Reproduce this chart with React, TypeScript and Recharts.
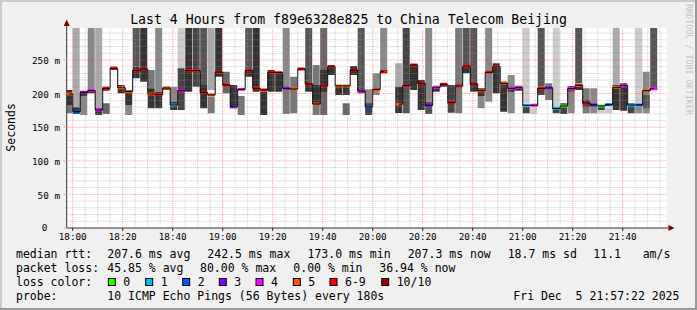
import {
  ComposedChart,
  Bar,
  Line,
  XAxis,
  YAxis,
  CartesianGrid,
  ReferenceLine,
  Cell,
} from 'recharts'

type Range = [number, number] | null

// one value per 3 minute step, first step 17:57-18:00, last 21:51-21:54
const medianMs: (number | null)[] = [
  199.4, 173.1, 201.4, 204.3, 175.6, 207.8, 237.6, 208.8, 202.9, 234.1,
  236.6, 199.4, 198.4, 208.3, 183.0, 204.3, 234.1, 234.1, 201.4, 197.9,
  232.1, 212.8, 180.5, 206.3, 234.1, 207.8, 205.3, 231.6, 231.1, 207.8,
  206.8, 236.6, 214.3, 184.5, 211.3, 240.1, 211.3, 211.3, 235.1, 203.9,
  180.0, 206.3, 232.6, null, 184.3, 211.8, 242.5, 215.3, 182.5, 209.3,
  213.8, 186.5, 211.3, 240.6, 214.3, 204.3, 231.6, 240.1, 215.3, 207.8,
  209.3, 182.5, 182.5, 207.8, 208.8, 177.6, 181.5, 207.3, 212.3, 186.0,
  183.0, 181.5, 183.5, 209.3, 211.8, 183.0, 183.0, 204.3, 207.3,
]

// index into lossLabels
const lossLevel: (number | null)[] = [
  5, 2, 3, 4, 4, 6, 6, 5, 5, 6,
  6, 5, 6, 5, 1, 4, 6, 6, 6, 5,
  6, 6, 3, 4, 6, 6, 6, 6, 6, 3,
  5, 6, 6, 5, 6, 6, 5, 5, 6, 4,
  2, 5, 6, null, 5, 6, 6, 6, 3, 4,
  6, 6, 6, 6, 6, 5, 6, 6, 5, 4,
  4, 1, 4, 6, 3, 1, 0, 4, 6, 6,
  3, 0, 2, 5, 4, 1, 2, 5, 4,
]

// smoke: wide band of the ping spread and the dense band near the median
const smokeOuter: Range[] = [
  [170.6, 205.3], [179.5, 300], [168.1, 196.4], [205.3, 300], [178.1, 300],
  [169.6, 185.5], null, null, [168.1, 183], [240.1, 300],
  [217.7, 300], [207.8, 235.1], [202.9, 300], null, [188, 210.3],
  [237.6, 300], [202.9, 300], [210.3, 300], [212.8, 300], [205.3, 300],
  [225.2, 300], [200.4, 232.6], [178.1, 212.8], [168.1, 196.4], [235.1, 300],
  [202.9, 300], [168.1, 202.9], [202.9, 235.1], [202.9, 232.6], [207.8, 300],
  [170.6, 225.2], null, [215.3, 300], [168.1, 242.5], [168.1, 300],
  [227.7, 242.5], [197.9, 212.8], [168.1, 185.5], [227.7, 241.1], [207.8, 300],
  [173.1, 206.3], [197.9, 230.1], [235.1, 300], null, [210.3, 245],
  [211.3, 300], [205.3, 243.5], [175.6, 220.2], [188, 300], [202.9, 210.3],
  [210.3, 215.3], [171.6, 212.8], [170.6, 300], [242.5, 300], [215.3, 300],
  [178.1, 196.4], [188, 300], [200.4, 245], [173.1, 217.7], [170.6, 227.7],
  [204.3, 211.3], [185.5, 300], [169.6, 179.5], [210.3, 300], [190.5, 215.3],
  [179.5, 300], [169.6, 185.5], [170.6, 211.3], [215.3, 300], [170.6, 207.8],
  [170.6, 207.8], [170.6, 178.1], [170.6, 178.1], [212.8, 300], [174.6, 215.3],
  [170.6, 185.5], [185.5, 300], [170.6, 232.6], [207.8, 300],
]
const outerTone = [
  3, 1, 2, 2, 1, 4, 0, 0, 2, 5,
  7, 3, 2, 0, 2, 0, 7, 6, 5, 1,
  7, 4, 7, 3, 5, 7, 7, 7, 7, 2,
  3, 0, 5, 3, 4, 7, 7, 4, 7, 5,
  2, 2, 2, 0, 1, 6, 7, 7, 2, 7,
  7, 6, 3, 5, 5, 2, 2, 7, 7, 2,
  7, 0, 0, 5, 3, 0, 6, 2, 5, 3,
  2, 0, 0, 1, 7, 6, 0, 2, 5,
]
const smokeCore: Range[] = [
  [183, 205.3], [169.6, 179.5], [196.4, 204.3], [200.4, 205.3], [168.1, 178.1],
  [204.3, 210.3], [235.1, 240.1], [200.4, 212.8], [183, 205.3], [222.7, 240.1],
  null, [178.1, 207.8], [178.1, 202.9], [205.3, 210.3], [175.6, 188],
  [175.6, 237.6], null, null, [178.1, 212.8], [170.6, 195.4],
  null, null, null, null, [225.2, 235.1],
  null, null, null, null, [169.6, 207.8],
  null, [235.1, 237.6], [202.9, 215.3], [185.5, 212.8], [202.9, 235.1],
  null, null, [197.9, 210.3], null, [200.4, 207.8],
  [168.1, 185.5], null, [230.1, 235.1], null, [171, 210.3],
  [170.6, 211.3], null, null, [169.6, 188], null,
  null, null, null, [230.1, 242.5], [202.9, 215.3],
  [196.4, 207.8], null, null, null, [202.9, 210.3],
  null, [170.6, 180.5], null, [197.9, 207.8], null,
  [170.6, 179.5], null, [202.9, 211.3], [205.3, 210.3], [180.5, 190.5],
  null, [175.6, 180.5], null, [175.6, 212.8], null,
  null, [170.6, 180.5], [178.1, 197.9], [205.3, 207.8],
]
const coreTone = [
  7, 7, 7, 7, 7, 7, 7, 7, 7, 7,
  7, 7, 7, 7, 7, 6, 7, 7, 7, 3,
  7, 7, 7, 7, 7, 7, 7, 7, 7, 3,
  7, 7, 7, 7, 7, 7, 7, 7, 7, 7,
  6, 7, 7, 7, 7, 5, 7, 7, 5, 7,
  7, 7, 7, 7, 7, 7, 7, 7, 7, 7,
  7, 6, 7, 6, 7, 6, 7, 5, 7, 6,
  7, 6, 7, 7, 7, 7, 2, 5, 7,
]

const firstSlot = '17:57'
const stepMin = 3
const timeTicks = ['18:00', '18:20', '18:40', '19:00', '19:20', '19:40', '20:00', '20:20', '20:40', '21:00', '21:20', '21:40']
const rttTicks = [0, 50, 100, 150, 200, 250]
const lossLabels = ['0', '1', '2', '3', '4', '5', '6-9', '10/10']
const lossColors = ['#26ff00', '#00b8ff', '#0059ff', '#7e00ff', '#ff00ff', '#ff5500', '#ff0000', '#a10000']
const grays = ['#cccccc', '#aaaaaa', '#888888', '#777777', '#666666', '#555555', '#444444', '#333333']

const MONO = '"DejaVu Sans Mono", monospace'
const MARK = 2.2 // half height of the median marker, ms

const toMin = (s: string) => {
  const [h, m] = s.split(':').map(Number)
  return h * 60 + m
}
const fmtTime = (v: number) => {
  const h = Math.floor(v / 60)
  const m = Math.round(v - h * 60)
  return `${h}:${String(m).padStart(2, '0')}`
}

const rows = medianMs.map((med, i) => ({
  t: toMin(firstSlot) + stepMin * (i + 0.5),
  med,
  outer: smokeOuter[i],
  core: smokeCore[i],
  mark: med == null ? null : [med - MARK, med + MARK],
}))

const xDomain = [toMin('18:00') - 2.4, toMin('18:00') + 237.6]
const xMajor = timeTicks.map(toMin)
const xMinor: number[] = []
for (let v = toMin('18:00'); v < xDomain[1]; v += 5) if (!xMajor.includes(v)) xMinor.push(v)
const yMinor: number[] = []
for (let v = 10; v < 300; v += 10) if (v % 50 !== 0) yMinor.push(v)

// the axis drops its bottom tick, the 0 label is hung on a reference line instead
const YTick = (props: any) => {
  const { x, y, payload } = props
  if (Number(payload.value) === 0) return <g />
  return (
    <text x={x} y={y} dy={4.3} textAnchor="end" fontFamily={MONO} fontSize={9.3} fill="#000">
      {`${payload.value} m`}
    </text>
  )
}

const legendRows = [
  { y: 257.6, items: [[16, 'median rtt:'], [107.3, '207.6 ms avg'], [207.3, '242.5 ms max'], [307.5, '173.0 ms min'], [407.7, '207.3 ms now'], [507.7, '18.7 ms sd'], [593.3, '11.1'], [642.7, 'am/s']] },
  { y: 271.7, items: [[16, 'packet loss:'], [107.3, '45.85 % avg'], [200, '80.00 % max'], [293.3, '0.00 % min'], [379.3, '36.94 % now']] },
  { y: 285.8, items: [[16, 'loss color:']] },
  { y: 299.9, items: [[16, 'probe:'], [107.3, '10 ICMP Echo Pings (56 Bytes) every 180s'], [513.3, 'Fri Dec  5 21:57:22 2025']] },
]
const lossBoxX = [108.3, 145.7, 182.7, 219.3, 256, 293.3, 330, 381.7]

export default function App() {
  return (
    <div style={{ position: 'absolute', left: 0, top: 0, width: 697, height: 310, background: '#f0f0f0' }}>
      <ComposedChart
        width={697}
        height={310}
        data={rows}
        margin={{ top: 28, right: 30.3, bottom: 62, left: 0 }}
        barCategoryGap={0}
        barGap={0}
      >
        <CartesianGrid fill="#ffffff" horizontal={false} vertical={false} />
        <XAxis
          xAxisId="main"
          type="number"
          dataKey="t"
          domain={xDomain}
          allowDataOverflow
          ticks={xMajor}
          interval={0}
          tickFormatter={fmtTime}
          tick={{ fontFamily: MONO, fontSize: 9.3, fill: '#000' }}
          height={20}
          tickSize={3}
          tickMargin={2.4}
          axisLine={{ stroke: '#333' }}
          tickLine={{ stroke: '#333' }}
        />
        <XAxis xAxisId="outer" type="number" dataKey="t" domain={xDomain} allowDataOverflow hide height={0} />
        <XAxis xAxisId="core" type="number" dataKey="t" domain={xDomain} allowDataOverflow hide height={0} />
        <XAxis xAxisId="mark" type="number" dataKey="t" domain={xDomain} allowDataOverflow hide height={0} />
        <YAxis
          type="number"
          domain={[-0.02, 297.6]}
          allowDataOverflow
          ticks={rttTicks}
          interval={0}
          width={66.7}
          tick={<YTick />}
          tickSize={3}
          tickMargin={3.7}
          axisLine={{ stroke: '#333' }}
          tickLine={{ stroke: '#f08080', strokeDasharray: '1 1' }}
        />
        <Bar xAxisId="outer" dataKey="outer" isAnimationActive={false}>
          {rows.map((_, i) => (
            <Cell key={i} fill={grays[outerTone[i]]} />
          ))}
        </Bar>
        <Bar xAxisId="core" dataKey="core" isAnimationActive={false}>
          {rows.map((_, i) => (
            <Cell key={i} fill={grays[coreTone[i]]} />
          ))}
        </Bar>
        <Line
          xAxisId="main"
          type="step"
          dataKey="med"
          stroke="#000"
          strokeWidth={1}
          dot={false}
          isAnimationActive={false}
        />
        <Bar xAxisId="mark" dataKey="mark" isAnimationActive={false}>
          {rows.map((_, i) => (
            <Cell key={i} fill={lossLevel[i] == null ? 'none' : lossColors[lossLevel[i] as number]} />
          ))}
        </Bar>
        {yMinor.map((v) => (
          <ReferenceLine key={'ym' + v} xAxisId="main" y={v} stroke="#999" strokeOpacity={0.5} strokeDasharray="1 1" />
        ))}
        {xMinor.map((v) => (
          <ReferenceLine key={'xm' + v} xAxisId="main" x={v} stroke="#999" strokeOpacity={0.5} strokeDasharray="1 1" />
        ))}
        {rttTicks.filter((v) => v > 0).map((v) => (
          <ReferenceLine key={'yM' + v} xAxisId="main" y={v} stroke="#ff5050" strokeOpacity={0.55} strokeDasharray="1 1" />
        ))}
        {xMajor.map((v) => (
          <ReferenceLine key={'xM' + v} xAxisId="main" x={v} stroke="#ff5050" strokeOpacity={0.55} strokeDasharray="1 1" />
        ))}
        <ReferenceLine
          xAxisId="main"
          y={0}
          stroke="none"
          label={{ value: '0', position: 'left', offset: 19.4, fill: '#000', fontSize: 9.3, fontFamily: MONO }}
        />
      </ComposedChart>

      <svg
        width={697}
        height={310}
        style={{ position: 'absolute', left: 0, top: 0, pointerEvents: 'none' }}
        fontFamily={MONO}
      >
        <line x1={0} y1={1} x2={697} y2={1} stroke="#cbcbcb" strokeWidth={2} />
        <line x1={1} y1={0} x2={1} y2={310} stroke="#cbcbcb" strokeWidth={2} />
        <line x1={0} y1={309} x2={697} y2={309} stroke="#999999" strokeWidth={2} />
        <line x1={696} y1={0} x2={696} y2={310} stroke="#999999" strokeWidth={2} />

        <text x={348.5} y={24} textAnchor="middle" fontSize={13.2} fill="#000">
          Last 4 Hours from f89e6328e825 to China Telecom Beijing
        </text>
        <text transform="translate(14.5,127.4) rotate(-90)" textAnchor="middle" fontSize={11.5} fill="#000">
          Seconds
        </text>
        <text transform="translate(685.5,4) rotate(90)" fontSize={8.4} fill="#c4c4c4">
          RRDTOOL / TOBI OETIKER
        </text>

        <line x1={66.7} y1={26} x2={66.7} y2={28} stroke="#333" />
        <polygon points="63.7,26 69.7,26 66.7,19.5" fill="#7f0000" />
        <line x1={666.7} y1={228} x2={668.5} y2={228} stroke="#333" />
        <polygon points="668.5,225 668.5,231 674.5,228" fill="#7f0000" />

        {legendRows.map((row) =>
          row.items.map(([x, s]) => (
            <text key={row.y + '-' + x} x={x as number} y={row.y} fontSize={11.5} fill="#000" style={{ whiteSpace: 'pre' }}>
              {s as string}
            </text>
          ))
        )}
        {lossLabels.map((lab, i) => (
          <g key={lab}>
            <rect x={lossBoxX[i]} y={278.5} width={7} height={7} fill={lossColors[i]} stroke="#000" strokeWidth={1} />
            <text x={lossBoxX[i] + 15} y={285.8} fontSize={11.5} fill="#000">
              {lab}
            </text>
          </g>
        ))}
      </svg>
    </div>
  )
}
